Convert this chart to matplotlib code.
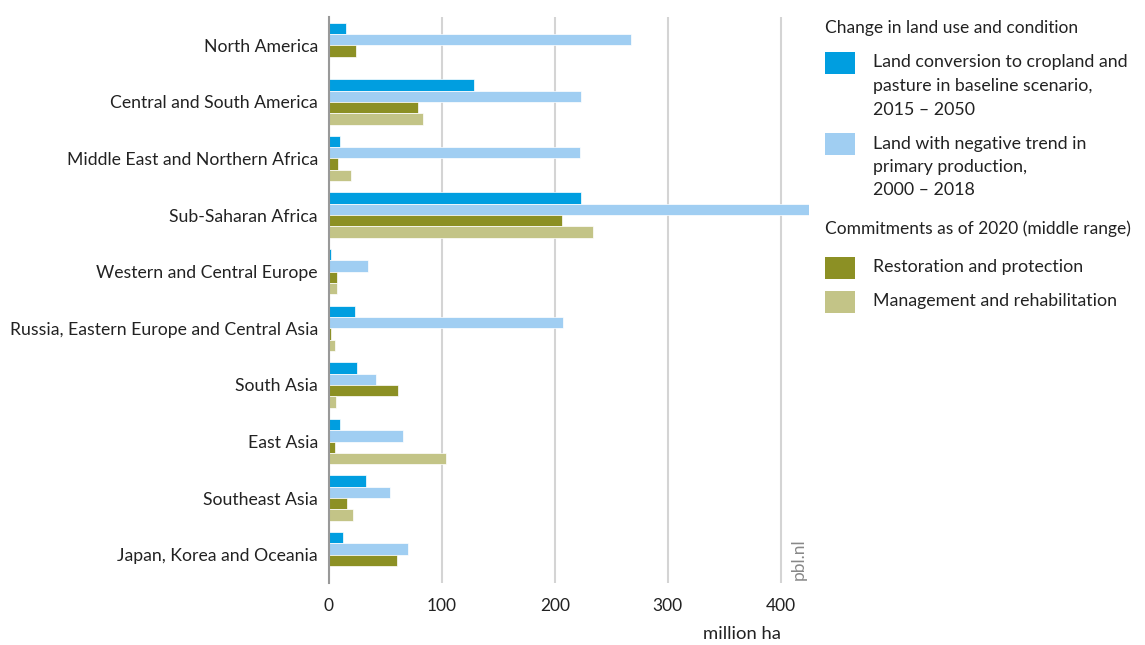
import matplotlib
matplotlib.use('Agg')
import matplotlib.pyplot as plt
import numpy as np
from matplotlib.patches import Rectangle

plt.rcParams['font.family'] = ['Lato', 'DejaVu Sans']

# regions, top to bottom
regions = ['North America', 'Central and South America', 'Middle East and Northern Africa',
           'Sub-Saharan Africa', 'Western and Central Europe',
           'Russia, Eastern Europe and Central Asia', 'South Asia', 'East Asia',
           'Southeast Asia', 'Japan, Korea and Oceania']

# million ha
conversion = [15, 128, 9.5, 223.5, 1.5, 23, 24.5, 9.7, 32.5, 12.7]
negative_trend = [267, 223.5, 222, 430, 34.5, 207, 41.6, 65.2, 54.3, 70.2]
restoration = [23.6, 79, 7.7, 206, 6.8, 1.5, 60.8, 5.3, 16.2, 60.2]
management = [0, 83, 19.2, 234, 6.8, 5.3, 5.9, 104, 21, 0]

series = [conversion, negative_trend, restoration, management]
colors = ['#009ee0', '#a0cef2', '#8c9024', '#c3c487']
labels_text = [['Land conversion to cropland and', 'pasture in baseline scenario,', '2015 \u2013 2050'],
               ['Land with negative trend in', 'primary production,', '2000 \u2013 2018'],
               ['Restoration and protection'],
               ['Management and rehabilitation']]

txt = '#222222'
fig = plt.figure(figsize=(11.45, 6.45), dpi=100)
ax = fig.add_axes([329/1145, 1-583/645, 480/1145, 566/645])

y = np.arange(len(regions))
h = 0.2
for i, vals in enumerate(series):
    ax.barh(y - 0.3 + i*h, vals, height=h, color=colors[i],
            edgecolor='white', linewidth=0.5, zorder=2)

ax.set_xlim(0, 425)
ax.set_ylim(len(regions) - 0.5, -0.5)
ax.set_yticks(y)
ax.set_yticklabels(regions, fontsize=12.7, color=txt)
ax.set_xticks([0, 100, 200, 300, 400])
ax.tick_params(axis='both', length=0, colors=txt)
ax.tick_params(axis='x', labelsize=12.5, pad=11)
ax.tick_params(axis='y', pad=8)
ax.xaxis.grid(True, color='#d4d4d4', linewidth=1.5, zorder=0)
ax.set_axisbelow(True)
for s in ['top', 'right', 'bottom']:
    ax.spines[s].set_visible(False)
ax.spines['left'].set_color('#999999')
ax.spines['left'].set_linewidth(1.5)
ax.spines['left'].set_zorder(3)

ax.text(0.978, 0.005, 'pbl.nl', transform=ax.transAxes, rotation=90,
        ha='center', va='bottom', fontsize=12.5, color='#888888')
fig.text(742/1145, 1-634/645, 'million ha', ha='center', va='center',
         fontsize=13.3, color=txt)

# legend drawn by hand
W, H = 1145, 645
def fx(px):
    return px / W
def fy(py):
    return 1 - py / H

fig.text(fx(825), fy(28), 'Change in land use and condition', fontsize=12.5,
         color=txt, va='center', ha='left')
fig.text(fx(825), fy(229), 'Commitments as of 2020 (middle range)', fontsize=12.5,
         color=txt, va='center', ha='left')
patch_tops = [52, 133, 257, 291]
text_rows = [[62, 86.5, 110], [143.5, 167, 190.5], [267], [301]]
for c, lines, pt, rows in zip(colors, labels_text, patch_tops, text_rows):
    fig.patches.append(Rectangle((fx(825), fy(pt + 22)), 30/W, 22/H,
                                 transform=fig.transFigure, facecolor=c,
                                 edgecolor='none'))
    for line, ry in zip(lines, rows):
        fig.text(fx(873), fy(ry), line, fontsize=12.8, color=txt,
                 va='center', ha='left')

fig.savefig('out.png', dpi=100)
